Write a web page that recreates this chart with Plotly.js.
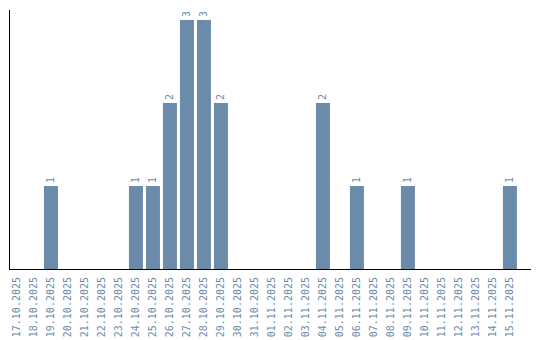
<!DOCTYPE html>
<html><head><meta charset="utf-8">
<script src="https://cdn.plot.ly/plotly-3.0.1.min.js"></script>
<style>html,body{margin:0;padding:0;background:#fff}#c{width:540px;height:340px}</style>
</head><body><div id="c"></div>
<script>
const dates = ["17.10.2025","18.10.2025","19.10.2025","20.10.2025","21.10.2025","22.10.2025","23.10.2025","24.10.2025","25.10.2025","26.10.2025","27.10.2025","28.10.2025","29.10.2025","30.10.2025","31.10.2025","01.11.2025","02.11.2025","03.11.2025","04.11.2025","05.11.2025","06.11.2025","07.11.2025","08.11.2025","09.11.2025","10.11.2025","11.11.2025","12.11.2025","13.11.2025","14.11.2025","15.11.2025"];
const counts = [0,0,1,0,0,0,0,1,1,2,3,3,2,0,0,0,0,0,2,0,1,0,0,1,0,0,0,0,0,1];
const labels = counts.map(v => v > 0 ? String(v) : "");
const col = "#6a8caa";
const font = {family: "DejaVu Sans Mono, monospace", size: 10, color: col};
Plotly.newPlot("c", [{
  type: "bar", x: dates, y: counts, text: labels, textposition: "outside",
  textangle: -90, textfont: font, cliponaxis: false,
  marker: {color: col}, hoverinfo: "none"
}], {
  width: 540, height: 340,
  margin: {l: 10, r: 9, t: 10, b: 71},
  paper_bgcolor: "#fff", plot_bgcolor: "#fff",
  bargap: 0.176, showlegend: false,
  xaxis: {type: "category", range: [-0.41, 30.24], tickangle: -90, tickfont: font, ticklabelstandoff: 3, showline: true, linecolor: "#000", linewidth: 1, showgrid: false, ticks: "", zeroline: false},
  yaxis: {range: [0, 3.12], showline: true, linecolor: "#000", linewidth: 1, showgrid: false, showticklabels: false, ticks: "", zeroline: false}
}, {displayModeBar: false, staticPlot: true});
</script></body></html>
